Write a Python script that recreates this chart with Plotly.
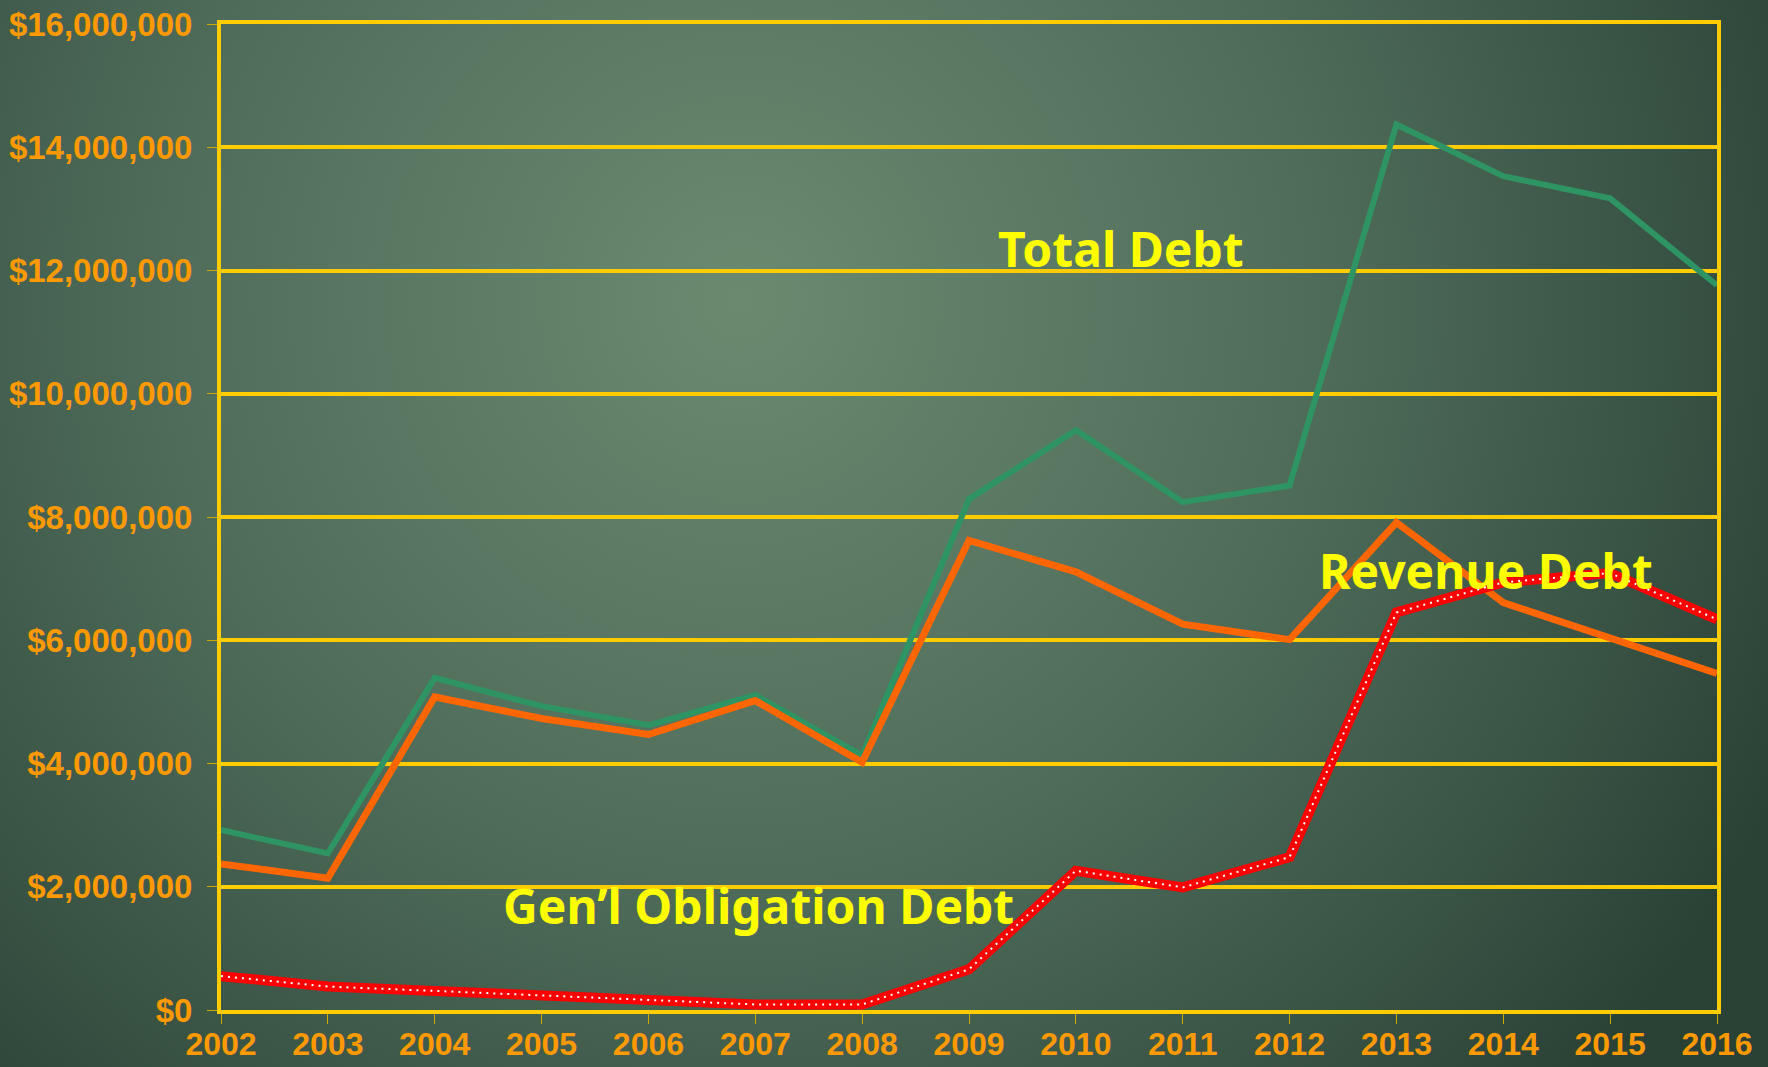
import plotly.graph_objects as go
import base64

years = list(range(2002, 2017))
total_debt = [2.92, 2.54, 5.39, 4.93, 4.62, 5.11, 4.13, 8.29, 9.41, 8.24, 8.51, 14.37, 13.53, 13.17, 11.76]
revenue_debt = [2.37, 2.14, 5.08, 4.73, 4.47, 5.02, 4.02, 7.62, 7.11, 6.26, 6.01, 7.91, 6.61, 6.03, 5.46]
go_debt = [0.55, 0.38, 0.31, 0.24, 0.16, 0.09, 0.09, 0.66, 2.26, 1.99, 2.48, 6.45, 6.94, 7.09, 6.34]
total_debt = [v * 1e6 for v in total_debt]
revenue_debt = [v * 1e6 for v in revenue_debt]
go_debt = [v * 1e6 for v in go_debt]

y_ticks = [0, 2e6, 4e6, 6e6, 8e6, 10e6, 12e6, 14e6, 16e6]
y_tick_labels = ["$0", "$2,000,000", "$4,000,000", "$6,000,000", "$8,000,000",
                 "$10,000,000", "$12,000,000", "$14,000,000", "$16,000,000"]

W, H = 1768, 1067
ML, MR, MT, MB = 221, 51, 24, 57
PW, PH = W - ML - MR, H - MT - MB

svg = f'''<svg xmlns="http://www.w3.org/2000/svg" width="{W}" height="{H}" viewBox="0 0 {W} {H}" preserveAspectRatio="none">
<defs><radialGradient id="g" gradientUnits="userSpaceOnUse" cx="740" cy="300" r="1150" fx="740" fy="300">
<stop offset="0" stop-color="#6a8a70"/>
<stop offset="0.5" stop-color="#4f6c5a"/>
<stop offset="1" stop-color="#2a4236"/>
</radialGradient></defs>
<rect width="{W}" height="{H}" fill="url(#g)"/></svg>'''
src = "data:image/svg+xml;base64," + base64.b64encode(svg.encode()).decode()

fig = go.Figure()
fig.add_trace(go.Scatter(x=years, y=total_debt, mode="lines",
                         line=dict(color="#2f9464", width=6), hoverinfo="skip"))
fig.add_trace(go.Scatter(x=years, y=revenue_debt, mode="lines",
                         line=dict(color="#ff6600", width=7), hoverinfo="skip"))
fig.add_trace(go.Scatter(x=years, y=go_debt, mode="lines",
                         line=dict(color="#ff0000", width=10), hoverinfo="skip"))
fig.add_trace(go.Scatter(x=years, y=go_debt, mode="lines",
                         line=dict(color="#ffffff", width=2, dash="2px,5px"), hoverinfo="skip"))

ann_font = dict(family="Noto Sans", size=48, color="#ffff00")
fig.add_annotation(x=2010.42, y=12.35e6, text="<b>Total Debt</b>", showarrow=False, font=ann_font)
fig.add_annotation(x=2013.84, y=7.14e6, text="<b>Revenue Debt</b>", showarrow=False, font=ann_font)
fig.add_annotation(x=2007.03, y=1.69e6, text="<b>Gen\u2019l Obligation Debt</b>", showarrow=False, font=ann_font)

tick_font = dict(family="Liberation Sans", size=33, color="#ff9900", weight="bold")
x_tick_font = dict(family="Liberation Sans", size=32, color="#ff9900", weight="bold")
fig.update_xaxes(range=[2002, 2016], tickvals=years, ticktext=[str(y) for y in years],
                 showgrid=False, zeroline=False, showline=True, linecolor="#ffcc00", linewidth=4,
                 mirror=True, ticks="outside", ticklen=10, tickwidth=1, tickcolor="#ccaa00",
                 tickfont=x_tick_font, ticklabelstandoff=-7, automargin=False)
fig.update_yaxes(range=[0, 16e6], tickvals=y_ticks, ticktext=y_tick_labels,
                 showgrid=True, gridcolor="#ffcc00", gridwidth=4, zeroline=False,
                 showline=True, linecolor="#ffcc00", linewidth=4, mirror=True,
                 ticks="outside", ticklen=10, tickwidth=1, tickcolor="#ccaa00",
                 tickfont=tick_font, ticklabelstandoff=8, automargin=False)

fig.update_layout(
    width=W, height=H,
    margin=dict(l=ML, r=MR, t=MT, b=MB),
    paper_bgcolor="#3b5747", plot_bgcolor="rgba(0,0,0,0)",
    showlegend=False,
    images=[dict(source=src, xref="paper", yref="paper",
                 x=-ML / PW, y=1 + MT / PH, sizex=W / PW, sizey=H / PH,
                 xanchor="left", yanchor="top", sizing="stretch", layer="below")],
)

fig.write_html("out.html", config={"displayModeBar": False},
               post_script="document.body.style.margin='0';")
